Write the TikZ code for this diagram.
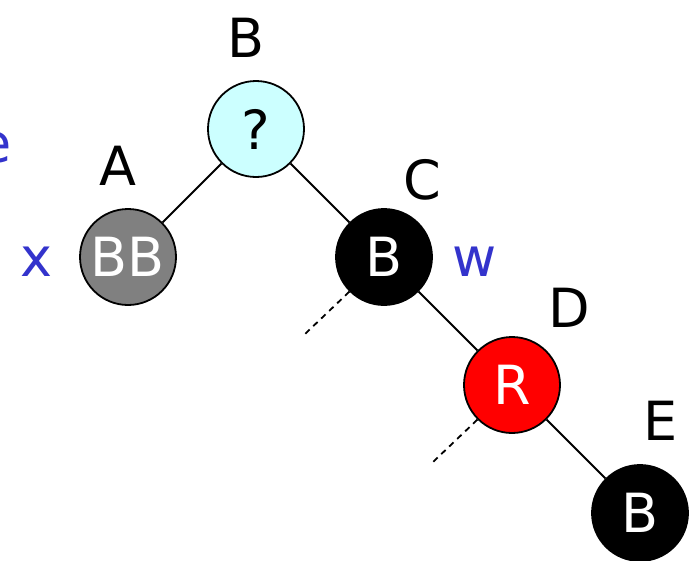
\documentclass[tikz,border=0pt]{standalone}
\usepackage{fontspec}
\setmainfont{DejaVu Sans}
\usepackage{tikz}
\usetikzlibrary{shapes.geometric, arrows}

\definecolor{doubleblue}{RGB}{51,51,204}
\definecolor{unknowncyan}{RGB}{204,255,255}

\begin{document}
\begin{tikzpicture}[x=1pt, y=-1pt]
  \tikzstyle{line}=[draw, line width=1.8pt]
  \tikzstyle{dots}=[draw, line width=1.8pt, dash pattern=on 6pt off 5pt]
  \tikzstyle{rbnode} = [circle, minimum size=96pt, inner sep=0pt, draw=black, line width=1.8pt, text=white, font=\fontsize{54}{60}\selectfont]
  \tikzstyle{blacknode} = [rbnode, fill=black]
  \tikzstyle{rednode} = [rbnode, fill=red]
  \tikzstyle{dblnode} = [rbnode, fill=black!50]
  \tikzstyle{qnode} = [rbnode, fill=unknowncyan, text=black]
  \tikzstyle{letter} = [inner sep=0pt, font=\fontsize{54}{60}\selectfont]
  \tikzstyle{ptr} = [letter, text=doubleblue]

  \useasboundingbox (0,0) rectangle (691,560);

  % the tree
  \node (parent) [qnode] at (256,129) {?};
  \node (xnode) [dblnode] at (128,257) {BB};
  \node (wnode) [blacknode] at (384,257) {B};
  \node (dnode) [rednode] at (512,385) {R};
  \node (enode) [blacknode] at (640,513) {B};

  % letters over the nodes
  \node (nameB) [letter] at (246,38) {B};
  \node (nameA) [letter] at (118,166) {A};
  \node (nameC) [letter] at (422,180) {C};
  \node (nameD) [letter] at (569,308) {D};
  \node (nameE) [letter] at (661,421) {E};

  % pointers
  \node (ptrx) [ptr] at (36,262) {x};
  \node (ptrw) [ptr] at (475,262) {w};
  \node (ptre) [ptr] at (-5,148) {e};

  \coordinate (wleft) at (305,334);
  \coordinate (dleft) at (433,462);

  \draw [line] (parent) -- (xnode);
  \draw [line] (parent) -- (wnode);
  \draw [line] (wnode) -- (dnode);
  \draw [line] (dnode) -- (enode);
  \draw [dots] (wnode.225) -- (wleft);
  \draw [dots] (dnode.225) -- (dleft);

\end{tikzpicture}
\end{document}
